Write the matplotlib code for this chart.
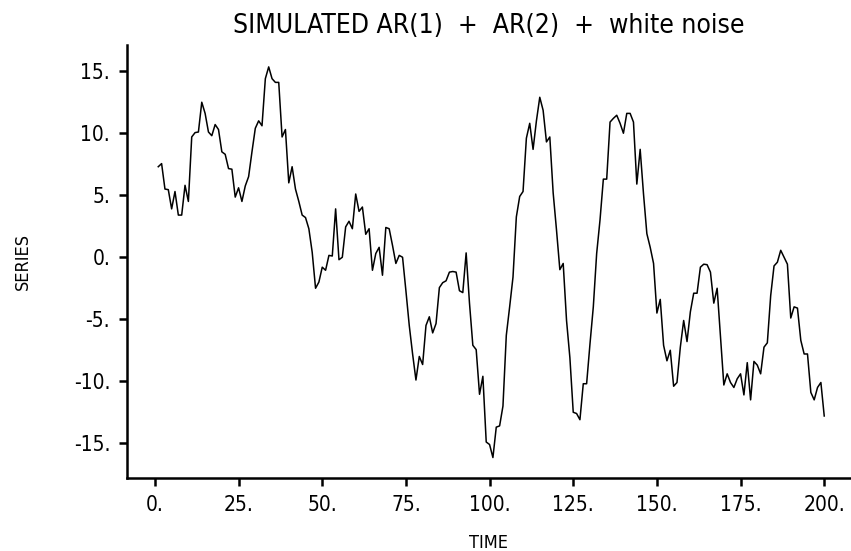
import numpy as np
import matplotlib
matplotlib.use("Agg")
import matplotlib.pyplot as plt
from matplotlib import font_manager

# series values, t = 1..200
time = np.arange(1, 201)
series = [
    7.3, 7.55, 5.5, 5.45, 3.9, 5.3, 3.4, 3.4, 5.8, 4.5,
    9.7, 10.05, 10.1, 12.5, 11.6, 10.1, 9.8, 10.7, 10.3, 8.5,
    8.3, 7.15, 7.1, 4.85, 5.6, 4.5, 5.75, 6.5, 8.5, 10.4,
    11.0, 10.6, 14.4, 15.35, 14.4, 14.1, 14.1, 9.7, 10.3, 6.0,
    7.3, 5.5, 4.5, 3.4, 3.2, 2.3, 0.4, -2.5, -2.0, -0.8,
    -1.05, 0.15, 0.1, 3.9, -0.2, 0.0, 2.45, 2.9, 2.3, 5.1,
    3.7, 4.05, 1.85, 2.3, -1.05, 0.3, 0.8, -1.45, 2.4, 2.3,
    0.95, -0.5, 0.15, 0.0, -2.7, -5.5, -7.8, -9.9, -8.0, -8.65,
    -5.5, -4.8, -6.1, -5.35, -2.45, -2.05, -1.9, -1.2, -1.15, -1.2,
    -2.7, -2.85, 0.35, -3.7, -7.1, -7.45, -11.05, -9.6, -14.9, -15.1,
    -16.15, -13.7, -13.6, -12.0, -6.3, -4.0, -1.6, 3.25, 4.9, 5.3,
    9.6, 10.8, 8.7, 11.0, 12.9, 11.85, 9.3, 9.7, 5.2, 2.2,
    -1.0, -0.5, -5.1, -8.1, -12.5, -12.6, -13.1, -10.2, -10.2, -7.0,
    -4.0, 0.3, 3.0, 6.3, 6.3, 10.9, 11.2, 11.45, 10.8, 10.0,
    11.6, 11.6, 10.9, 5.9, 8.7, 5.1, 1.9, 0.8, -0.5, -4.5,
    -3.4, -7.1, -8.35, -7.5, -10.4, -10.1, -7.25, -5.1, -6.8, -4.4,
    -2.9, -2.9, -0.8, -0.56, -0.6, -1.2, -3.7, -2.5, -6.4, -10.3,
    -9.4, -10.1, -10.5, -9.8, -9.4, -11.1, -8.5, -11.5, -8.4, -8.7,
    -9.4, -7.25, -6.9, -3.1, -0.7, -0.4, 0.56, 0.0, -0.56, -4.9,
    -4.0, -4.1, -6.7, -7.8, -7.8, -10.9, -11.5, -10.5, -10.1, -12.8,
]

xticks = [0, 25, 50, 75, 100, 125, 150, 175, 200]
xticklabels = ["0.", "25.", "50.", "75.", "100.", "125.", "150.", "175.", "200."]
yticks = [-15, -10, -5, 0, 5, 10, 15]
yticklabels = ["-15.", "-10.", "-5.", "0.", "5.", "10.", "15."]

# the reference uses a narrow stroke font; take a condensed face if one is installed
narrow = None
for f in font_manager.fontManager.ttflist:
    name = (f.fname + " " + f.name).lower()
    if ("condensed" in name or "narrow" in name) and f.weight in (300, 400, "normal", "light"):
        if "italic" in name or "oblique" in name:
            continue
        narrow = f.fname
        break

if narrow:
    fp = font_manager.FontProperties(fname=narrow)
else:
    fp = font_manager.FontProperties(family="DejaVu Sans", stretch="condensed")

fig = plt.figure(figsize=(8.51, 5.51), dpi=100)
ax = fig.add_axes([0.149, 0.1325, 0.851, 0.7855])

ax.plot(time, series, color="black", linewidth=1.1)

ax.set_xlim(-8.4, 208)
ax.set_ylim(-17.8, 17.1)
ax.set_xticks(xticks)
ax.set_xticklabels(xticklabels, fontproperties=fp, fontsize=15)
ax.set_yticks(yticks)
ax.set_yticklabels(yticklabels, fontproperties=fp, fontsize=15)

for side in ["top", "right"]:
    ax.spines[side].set_visible(False)
for side in ["left", "bottom"]:
    ax.spines[side].set_linewidth(1.8)
ax.tick_params(direction="out", length=6, width=1.8, pad=6)

ax.set_title("SIMULATED AR(1)  +  AR(2)  +  white noise", fontproperties=fp, fontsize=19, pad=9)
ax.set_xlabel("TIME", fontproperties=fp, fontsize=13, labelpad=14)
ax.set_ylabel("SERIES", fontproperties=fp, fontsize=13, labelpad=30)

fig.savefig("out.png", dpi=100)
